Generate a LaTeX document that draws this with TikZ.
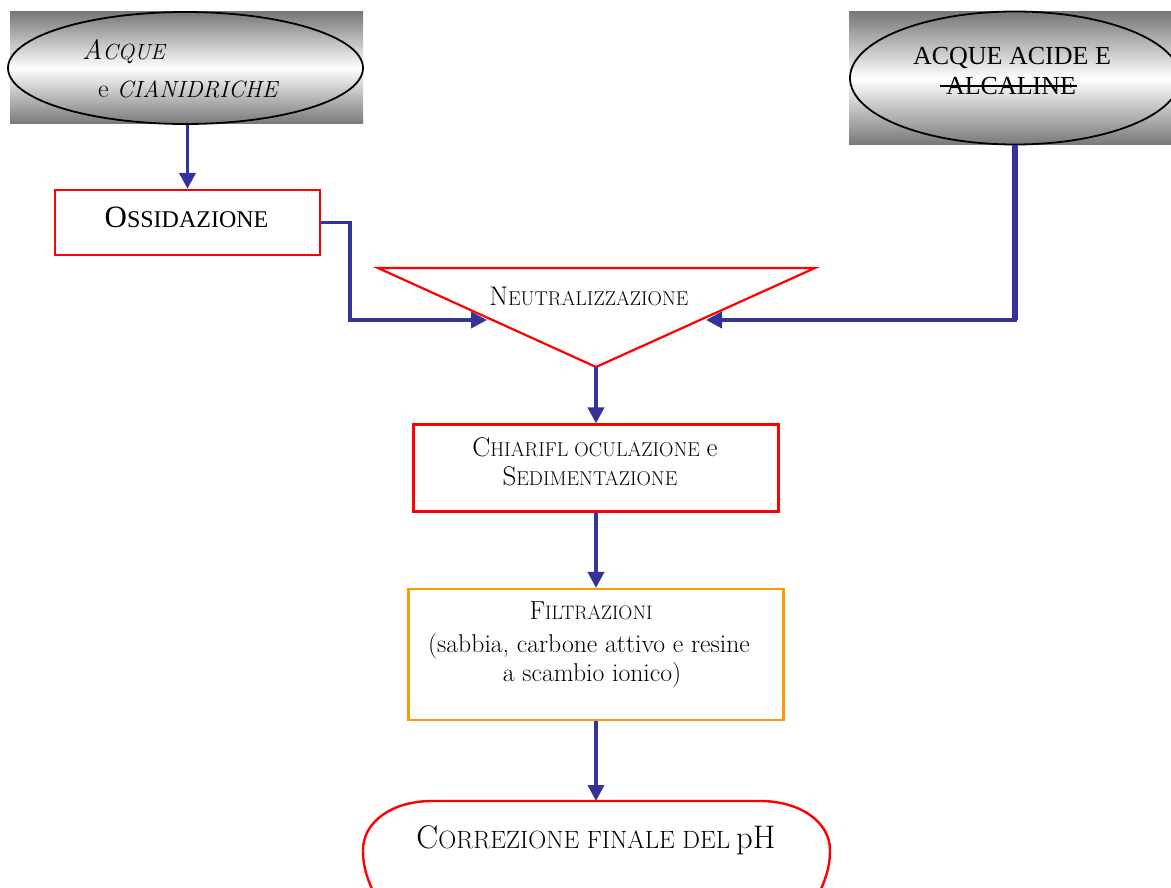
\documentclass[tikz,border=0pt]{standalone}
\usepackage{fontspec}
\newfontfamily\timesf{Liberation Serif}
\usetikzlibrary{arrows.meta,shapes.geometric}
\definecolor{flowblue}{RGB}{51,51,153}
\definecolor{boxred}{RGB}{255,0,0}
\definecolor{boxorange}{RGB}{255,153,0}
\definecolor{shadegray}{RGB}{120,120,120}
\newcommand\fsc[4]{{\fontsize{#1}{#1}\selectfont #3}{\fontsize{#2}{#2}\selectfont #4}}
\begin{document}
\begin{tikzpicture}[x=1pt,y=-1pt,
  flow/.style={draw=flowblue, line width=3.8pt, -{Triangle[length=16pt,width=16pt]}},
  redbox/.style={draw=boxred, line width=2.2pt, rectangle, inner sep=0pt},
  orangebox/.style={draw=boxorange, line width=2.2pt, rectangle, inner sep=0pt},
  source/.style={draw=black, line width=1.8pt, ellipse, inner sep=0pt},
  txt/.style={inner sep=0pt, anchor=base},
  shadebg/.style={top color=shadegray, bottom color=shadegray, middle color=white},
]
\useasboundingbox (0,0) rectangle (1171,888);

% sources
\shade[shadebg] (10,12) rectangle (363,124);
\node[source, minimum width=355pt, minimum height=112pt] (ellL) at (185.5,68) {};
\node[txt, anchor=base west] (tA1) at (82,60) {\fsc{28}{22}{\itshape A}{\itshape CQUE}};
\node[txt, anchor=base west] (tA2) at (98,98) {\fsc{26}{23.5}{e}{\itshape\ CIANIDRICHE}};

\shade[shadebg] (849,12) rectangle (1171,145);
\node[source, minimum width=330pt, minimum height=133pt] (ellR) at (1015,78) {};
\node[txt] (tB1) at (1012,65) {\timesf\fontsize{26}{26}\selectfont ACQUE ACIDE E};
\node[txt] (tB2) at (1011,95) {\timesf\fontsize{26}{26}\selectfont ALCALINE};
\draw[line width=1.2pt] (940,86) -- (1077,86);

% ossidazione
\node[redbox, minimum width=265pt, minimum height=65pt] (ossid) at (187.5,222.5) {};
\node[txt] (tOss) at (186.5,227) {\timesf\fsc{31}{24}{O}{SSIDAZIONE}};

% neutralizzazione triangle
\coordinate (tL) at (378,268);
\coordinate (tR) at (815,268);
\coordinate (tBot) at (596,367);
\draw[draw=boxred, line width=2.2pt, line join=miter] (tL) -- (tR) -- (tBot) -- cycle;
\node[txt] (tNeu) at (589,305) {\fsc{27}{20}{N}{EUTRALIZZAZIONE}};
\coordinate (inL) at (487,320);
\coordinate (inR) at (706,320);

% chiariflocculazione
\node[redbox, minimum width=365pt, minimum height=87pt] (chiar) at (596,468) {};
\node[txt] (tCh1) at (595,456) {\fsc{27}{20}{C}{HIARIFL OCULAZIONE}\ \ {\fontsize{27}{27}\selectfont e}};
\node[txt] (tCh2) at (590,485) {\fsc{27}{20}{S}{EDIMENTAZIONE}};

% filtrazioni
\node[orangebox, minimum width=375pt, minimum height=131pt] (filt) at (596,654.5) {};
\node[txt] (tF1) at (591,619) {\fsc{26}{19.5}{F}{ILTRAZIONI}};
\node[txt] (tF2) at (589,652) {\fontsize{25.7}{25.7}\selectfont (sabbia, carbone attivo e resine};
\node[txt] (tF3) at (592,681) {\fontsize{25.7}{25.7}\selectfont a scambio ionico)};

% final
\draw[draw=boxred, line width=2.4pt]
  (375,896) .. controls (369,882) and (363,870) .. (363,850)
  .. controls (363,822) and (392,801) .. (432,801) -- (760,801)
  .. controls (800,801) and (830,822) .. (830,850)
  .. controls (830,870) and (824,882) .. (818,896);
\coordinate (finTop) at (596,801);
\node[txt] (tFin) at (596,848) {\fsc{32.7}{25}{C}{ORREZIONE FINALE DEL}\hspace{6pt}{\fontsize{32.7}{32.7}\selectfont pH}};

% connectors
\draw[flow] (ossid.north |- ellL.south) -- (ossid.north);
\draw[flow] (ossid.east) -- ++(29,0) |- (inL);
\draw[flow] (ellR.south) |- (inR);
\draw[draw=flowblue, line width=6pt] (ellR.south) -- (ellR.south |- inR);
\draw[flow] (tBot) -- (chiar.north);
\draw[flow] (chiar.south) -- (filt.north);
\draw[flow] (filt.south) -- (finTop);
\end{tikzpicture}
\end{document}
